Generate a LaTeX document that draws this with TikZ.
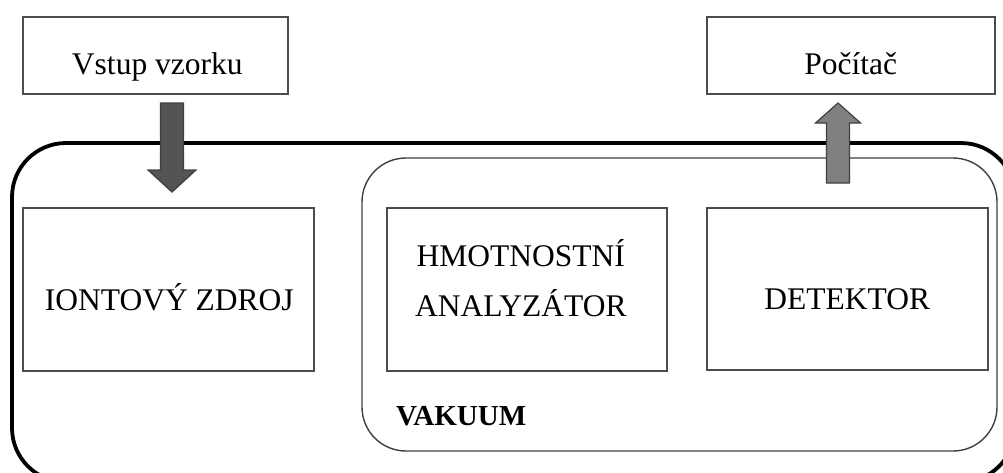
\documentclass[tikz,border=0pt]{standalone}
\usepackage{fontspec}
\setmainfont{Liberation Serif}
\usetikzlibrary{calc}
\tikzset{
  box/.style={draw=black!70, line width=1.6pt, fill=white, inner sep=0pt},
  txt/.style={font=\fontsize{31.5}{38}\selectfont, anchor=base, inner sep=0pt},
  outerbox/.style={draw=black, line width=3.8pt, rounded corners=54pt},
  innerbox/.style={draw=black!75, line width=1.4pt, rounded corners=44pt},
  bigarrow/.style={draw=black!75, line width=1.2pt, line join=miter},
}
\begin{document}
\begin{tikzpicture}[x=1pt,y=-1pt]
\useasboundingbox (0,0) rectangle (1003,472);
\begin{scope}
\clip (0,0) rectangle (1003,472);
\draw[outerbox] (12,143) rectangle (1015,482);
\end{scope}
\draw[innerbox] (362,158) rectangle (997,451);
\node[box, minimum width=265pt, minimum height=77pt, anchor=north west] (vstup) at (22,16) {};
\node[box, minimum width=288pt, minimum height=77pt, anchor=north west] (pocitac) at (706,16) {};
\node[box, minimum width=291pt, minimum height=163pt, anchor=north west] (ion) at (22,207) {};
\node[box, minimum width=280pt, minimum height=163pt, anchor=north west] (hmot) at (386,207) {};
\node[box, minimum width=281pt, minimum height=162pt, anchor=north west] (det) at (706,207) {};
\node[txt] (tvstup) at ($(vstup.center)+(2,19)$) {Vstup vzorku};
\node[txt] (tpoc) at ($(pocitac.center)+(0,19)$) {Počítač};
\node[txt] (tion) at ($(ion.center)+(1,21)$) {IONTOVÝ ZDROJ};
\node[txt] (thmot1) at ($(hmot.center)+(-6,-23)$) {HMOTNOSTNÍ};
\node[txt] (thmot2) at ($(hmot.center)+(-6,27)$) {ANALYZÁTOR};
\node[txt] (tdet) at ($(det.center)+(0,21)$) {DETEKTOR};
\node[font=\bfseries\fontsize{29}{34}\selectfont, anchor=base west, inner sep=0pt] (vak) at (396,425) {VAKUUM};
% arrow from Vstup vzorku to iontovy zdroj
\coordinate (a1) at (172,103);
\coordinate (a2) at (172,192);
\draw[bigarrow, fill=black!67]
  ($(a1)+(-11.5,0)$) -- ($(a1)+(11.5,0)$) -- ($(a1)+(11.5,67)$) -- ($(a1)+(24,67)$)
  -- (a2) -- ($(a1)+(-24,67)$) -- ($(a1)+(-11.5,67)$) -- cycle;
% arrow from detektor to pocitac
\coordinate (b1) at (838,183);
\coordinate (b2) at (838,103);
\draw[bigarrow, fill=black!50]
  ($(b1)+(-11.5,0)$) -- ($(b1)+(11.5,0)$) -- ($(b1)+(11.5,-60)$) -- ($(b1)+(22.5,-60)$)
  -- (b2) -- ($(b1)+(-22.5,-60)$) -- ($(b1)+(-11.5,-60)$) -- cycle;
\end{tikzpicture}
\end{document}
